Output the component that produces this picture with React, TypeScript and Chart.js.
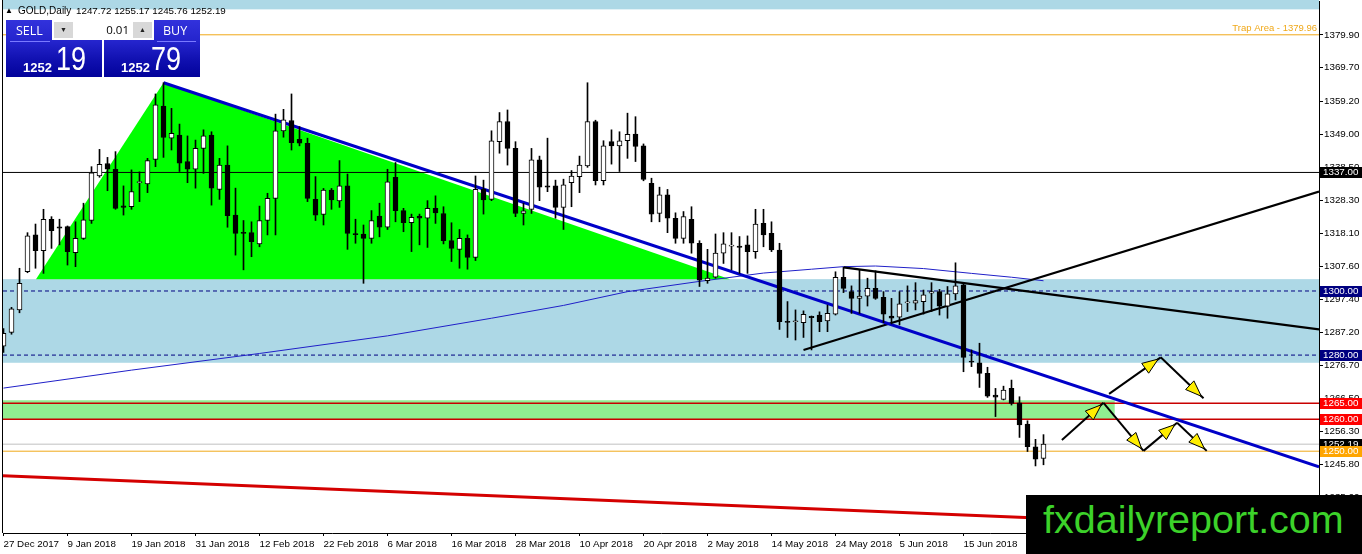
import React, { useEffect, useRef } from "react";
import { Chart, registerables } from "chart.js";

Chart.register(...registerables);

// ---------- DATA ----------
const opens = [
  1282.8, 1287.1, 1294.1, 1306.0, 1317.5, 1312.6, 1322.4, 1320.0, 1320.1, 1312.0,
  1316.4, 1322.0, 1335.9, 1339.8, 1338.0, 1326.6, 1326.3, 1333.8, 1333.4, 1341.1,
  1357.7, 1347.7, 1348.7, 1340.4, 1338.0, 1344.5, 1348.7, 1331.7, 1339.3, 1323.7,
  1318.3, 1318.2, 1314.7, 1322.0, 1328.9, 1350.0, 1353.2, 1347.3, 1346.1, 1328.6,
  1323.9, 1331.5, 1328.1, 1332.8, 1317.8, 1317.8, 1316.4, 1323.4, 1319.9, 1335.5,
  1325.1, 1321.3, 1323.4, 1322.7, 1325.8, 1324.2, 1315.7, 1313.0, 1316.4, 1310.5,
  1331.7, 1328.6, 1346.6, 1352.9, 1344.5, 1324.2, 1325.5, 1340.9, 1332.8, 1332.8,
  1326.1, 1333.8, 1335.7, 1339.0, 1352.9, 1334.4, 1346.6, 1345.3, 1346.9, 1349.0,
  1345.3, 1333.6, 1324.2, 1330.0, 1322.7, 1316.4, 1322.4, 1314.9, 1303.2, 1304.3,
  1311.8, 1314.0, 1314.0, 1314.4, 1312.3, 1321.1, 1318.0, 1312.8, 1290.3, 1290.4,
  1290.1, 1292.1, 1292.5, 1290.7, 1292.8, 1304.3, 1299.8, 1297.7, 1298.4, 1300.8,
  1298.0, 1292.2, 1291.8, 1296.3, 1296.2, 1296.7, 1299.3, 1299.8, 1295.3, 1299.1,
  1301.9, 1278.0, 1277.6, 1274.3, 1267.5, 1266.2, 1269.6, 1265.1, 1258.5, 1251.4,
  1247.72,
];
const highs = [
  1288.3, 1294.9, 1307.1, 1318.2, 1320.9, 1325.5, 1323.2, 1322.4, 1320.3, 1321.6,
  1327.4, 1338.8, 1344.2, 1341.7, 1343.5, 1332.8, 1337.8, 1337.2, 1341.4, 1361.5,
  1365.0, 1357.0, 1352.1, 1348.4, 1347.1, 1350.3, 1349.7, 1341.4, 1345.3, 1332.1,
  1322.0, 1321.6, 1326.5, 1330.5, 1355.2, 1356.7, 1361.5, 1351.3, 1347.7, 1335.7,
  1332.0, 1332.0, 1340.7, 1336.5, 1322.4, 1320.6, 1325.1, 1327.4, 1338.0, 1340.1,
  1325.8, 1324.0, 1324.0, 1328.2, 1329.7, 1326.3, 1321.3, 1319.2, 1317.5, 1335.9,
  1334.6, 1350.0, 1355.7, 1356.5, 1346.6, 1327.4, 1344.5, 1342.1, 1347.7, 1334.6,
  1334.9, 1337.6, 1342.1, 1365.0, 1353.3, 1346.9, 1350.3, 1349.7, 1355.5, 1354.4,
  1345.9, 1335.2, 1332.4, 1331.7, 1324.4, 1324.8, 1326.3, 1315.7, 1313.0, 1317.8,
  1318.2, 1318.2, 1317.0, 1317.2, 1325.5, 1325.5, 1321.6, 1314.9, 1296.7, 1294.1,
  1293.8, 1292.2, 1293.5, 1295.6, 1306.0, 1307.4, 1301.6, 1306.6, 1304.0, 1306.3,
  1299.8, 1297.7, 1299.8, 1301.6, 1302.6, 1300.3, 1302.6, 1300.5, 1301.4, 1308.8,
  1302.4, 1281.6, 1283.7, 1276.2, 1269.6, 1270.3, 1272.2, 1267.0, 1259.5, 1253.7,
  1255.17,
];
const lows = [
  1280.8, 1286.5, 1293.2, 1305.7, 1307.1, 1305.5, 1313.3, 1314.4, 1308.1, 1307.6,
  1316.1, 1321.1, 1335.5, 1331.3, 1325.5, 1323.7, 1325.5, 1327.9, 1330.7, 1338.8,
  1341.7, 1344.0, 1337.3, 1333.8, 1332.1, 1336.7, 1326.8, 1328.6, 1319.9, 1311.2,
  1306.6, 1310.7, 1313.8, 1317.5, 1317.5, 1348.0, 1344.0, 1345.3, 1327.9, 1322.0,
  1320.6, 1325.5, 1326.1, 1313.0, 1314.9, 1302.4, 1314.9, 1316.9, 1319.2, 1321.6,
  1318.5, 1312.3, 1314.4, 1313.6, 1321.1, 1314.7, 1309.2, 1307.1, 1306.8, 1309.5,
  1324.0, 1328.2, 1343.0, 1339.3, 1323.2, 1320.6, 1324.2, 1328.2, 1331.0, 1322.7,
  1319.2, 1326.3, 1330.7, 1338.6, 1333.1, 1333.1, 1339.6, 1337.3, 1341.4, 1340.4,
  1334.4, 1321.6, 1321.6, 1318.2, 1314.9, 1314.9, 1311.8, 1301.4, 1302.4, 1304.0,
  1308.6, 1306.6, 1305.5, 1305.5, 1310.2, 1313.8, 1312.3, 1288.0, 1285.5, 1284.7,
  1285.5, 1281.6, 1287.3, 1287.3, 1292.5, 1299.5, 1293.0, 1293.0, 1295.3, 1297.4,
  1290.1, 1289.7, 1289.4, 1293.6, 1294.1, 1292.8, 1293.6, 1292.5, 1291.5, 1297.2,
  1274.8, 1276.4, 1269.9, 1266.8, 1260.8, 1266.0, 1264.4, 1254.3, 1249.9, 1245.4,
  1245.76,
];
const closes = [
  1286.8, 1294.4, 1302.4, 1317.2, 1312.6, 1322.4, 1318.8, 1319.6, 1312.3, 1316.4,
  1322.2, 1336.9, 1339.5, 1338.0, 1325.8, 1326.1, 1331.0, 1334.0, 1340.7, 1358.1,
  1347.9, 1349.2, 1339.9, 1338.0, 1344.5, 1348.4, 1332.1, 1339.3, 1323.5, 1318.0,
  1318.0, 1315.4, 1322.0, 1328.9, 1350.0, 1353.4, 1346.3, 1346.1, 1328.9, 1323.7,
  1331.5, 1328.4, 1332.8, 1318.0, 1317.6, 1316.4, 1322.0, 1319.9, 1334.1, 1325.1,
  1321.3, 1323.0, 1322.7, 1325.8, 1324.4, 1315.7, 1313.3, 1316.4, 1310.5, 1331.7,
  1328.4, 1346.9, 1352.9, 1344.5, 1324.2, 1325.0, 1340.9, 1332.4, 1332.4, 1326.1,
  1333.1, 1335.9, 1339.3, 1352.9, 1334.4, 1345.3, 1345.3, 1346.9, 1348.9, 1345.1,
  1334.8, 1324.0, 1330.0, 1322.7, 1316.4, 1323.2, 1314.9, 1303.4, 1304.0, 1311.8,
  1314.7, 1314.3, 1313.6, 1312.3, 1320.9, 1317.5, 1312.8, 1290.4, 1290.2, 1290.5,
  1292.7, 1291.7, 1290.4, 1293.0, 1304.3, 1300.8, 1297.7, 1298.4, 1300.8, 1297.7,
  1292.8, 1291.5, 1296.0, 1296.5, 1297.0, 1298.8, 1299.8, 1295.3, 1299.1, 1301.6,
  1279.3, 1277.8, 1274.3, 1267.2, 1266.9, 1269.1, 1264.9, 1258.2, 1251.4, 1247.5,
  1252.19,
];

// x-axis date ticks (bar index -> label)
const tickIndex = [0, 8, 16, 24, 32, 40, 48, 56, 64, 72, 80, 88, 96, 104, 112, 120];
const tickDates = [
  "27 Dec 2017", "9 Jan 2018", "19 Jan 2018", "31 Jan 2018", "12 Feb 2018",
  "22 Feb 2018", "6 Mar 2018", "16 Mar 2018", "28 Mar 2018", "10 Apr 2018",
  "20 Apr 2018", "2 May 2018", "14 May 2018", "24 May 2018", "5 Jun 2018",
  "15 Jun 2018",
];
// price axis ticks
const priceTicks = [
  1379.9, 1369.7, 1359.2, 1349.0, 1338.5, 1328.3, 1318.1, 1307.6, 1297.4,
  1287.2, 1276.7, 1266.5, 1256.3, 1245.8, 1235.6,
];

// moving average (read at a handful of bars)
const maIdx = [0, 16, 32, 48, 61, 70, 78, 87, 95, 101, 105, 109, 115, 121, 126, 130];
const maVal = [
  1269.7, 1275.3, 1280.5, 1286.0, 1291.5, 1295.5, 1299.8, 1303.0, 1305.6,
  1306.8, 1307.6, 1307.8, 1307.0, 1305.5, 1304.3, 1303.2,
];

// drawn trendlines: [start, end] in bar index / price
const blueTrendIdx = [20, 164.44];
const blueTrendVal = [1365.0, 1245.1];
const riseTrendIdx = [100, 164.44];
const riseTrendVal = [1281.6, 1331.0];
const fallTrendIdx = [105, 164.44];
const fallTrendVal = [1307.4, 1288.05];
const redTrendIdx = [-0.06, 164.44];
const redTrendVal = [1242.3, 1225.6];

// shaded areas
const triangleIdx = [4.06, 20, 90.8];
const triangleVal = [1303.7, 1365.0, 1303.7];
const blueZone = [1303.7, 1277.6];
const greenBand = [1265.9, 1260.0];
const greenBandEnd = [138.9];
const topStrip = [1387.9];

// horizontal levels
const levelValues = [1379.96, 1337.0, 1300.0, 1280.0, 1265.0, 1260.0, 1252.19, 1250.0];
const tagValues = [1337.0, 1300.0, 1280.0, 1265.0, 1260.0, 1252.19, 1250.0];
const trapLabel = "Trap Area - 1379.96";

// projected path arrows
const arrowAIdx = [132.3, 137.5, 142.5, 146.7, 150.4];
const arrowAVal = [1253.5, 1265.1, 1250.1, 1258.9, 1250.1];
const arrowBIdx = [138.2, 144.65, 150.0];
const arrowBVal = [1267.9, 1279.3, 1266.5];

// header
const symbolTitle = "GOLD,Daily";
const ohlcText = "1247.72 1255.17 1245.76 1252.19";

// ---------- STYLES ----------
const X_MIN = -0.0625;
const X_MAX = 164.4375;
const Y_MIN = 1224.47;
const Y_MAX = 1390.51;
const FONT = "'Liberation Sans', Arial, sans-serif";
const levelColors = ["#f0a818", "#000000", "#000080", "#000080", "#c80000", "#c80000", "#c0c0c0", "#f0a818"];
const levelDash = [[], [], [4, 3], [4, 3], [], [], [], []];
const levelWidth = [1, 1, 1, 1, 1.5, 1.5, 1, 1];
const tagColors = ["#000000", "#000080", "#000080", "#ff0000", "#ff0000", "#000000", "#ffa500"];

function drawArrows(ctx: CanvasRenderingContext2D, xs: any, ys: any, idx: number[], val: number[]) {
  const pts = idx.map((v, k) => [xs.getPixelForValue(v), ys.getPixelForValue(val[k])]);
  for (let k = 0; k < pts.length - 1; k++) {
    const [x0, y0] = pts[k];
    const [x1, y1] = pts[k + 1];
    const dx = x1 - x0;
    const dy = y1 - y0;
    const len = Math.hypot(dx, dy);
    const ux = dx / len;
    const uy = dy / len;
    ctx.strokeStyle = "#000";
    ctx.lineWidth = 2;
    ctx.beginPath();
    ctx.moveTo(x0, y0);
    ctx.lineTo(x1, y1);
    ctx.stroke();
    const tx = x1 - ux * 3;
    const ty = y1 - uy * 3;
    const L = 16;
    const W = 6;
    const bx = tx - ux * L;
    const by = ty - uy * L;
    ctx.beginPath();
    ctx.moveTo(tx, ty);
    ctx.lineTo(bx - uy * W, by + ux * W);
    ctx.lineTo(bx + uy * W, by - ux * W);
    ctx.closePath();
    ctx.fillStyle = "#ffee00";
    ctx.fill();
    ctx.lineWidth = 1;
    ctx.strokeStyle = "#000";
    ctx.stroke();
  }
}

const overlayPlugin = {
  id: "mtOverlay",
  beforeDatasetsDraw(chart: any) {
    const { ctx, chartArea: ca, scales } = chart;
    const x = scales.x;
    const y = scales.y;
    ctx.save();
    ctx.fillStyle = "#add8e6";
    ctx.fillRect(ca.left, 0, ca.right - ca.left, y.getPixelForValue(topStrip[0]));
    const zt = y.getPixelForValue(blueZone[0]);
    const zb = y.getPixelForValue(blueZone[1]);
    ctx.fillRect(ca.left, zt, ca.right - ca.left, zb - zt);
    ctx.fillStyle = "#00ff00";
    ctx.beginPath();
    triangleIdx.forEach((v, k) => {
      const px = x.getPixelForValue(v);
      const py = y.getPixelForValue(triangleVal[k]);
      if (k === 0) ctx.moveTo(px, py);
      else ctx.lineTo(px, py);
    });
    ctx.closePath();
    ctx.fill();
    ctx.fillStyle = "#90ee90";
    const gt = y.getPixelForValue(greenBand[0]);
    const gb = y.getPixelForValue(greenBand[1]);
    ctx.fillRect(ca.left, gt, x.getPixelForValue(greenBandEnd[0]) - ca.left, gb - gt);
    ctx.restore();
  },
  afterDatasetsDraw(chart: any) {
    const { ctx, chartArea: ca, scales } = chart;
    const x = scales.x;
    const y = scales.y;
    ctx.save();
    drawArrows(ctx, x, y, arrowAIdx, arrowAVal);
    drawArrows(ctx, x, y, arrowBIdx, arrowBVal);
    ctx.font = `9.5px ${FONT}`;
    ctx.fillStyle = "#f0a818";
    ctx.textAlign = "right";
    ctx.textBaseline = "middle";
    ctx.fillText(trapLabel, ca.right - 2, y.getPixelForValue(levelValues[0]) - 6);
    ctx.restore();
  },
  afterDraw(chart: any) {
    const { ctx, chartArea: ca, scales } = chart;
    const y = scales.y;
    ctx.save();
    ctx.fillStyle = "#000";
    ctx.fillRect(Math.round(ca.left) - 1, 0, 1, Math.round(ca.bottom));
    ctx.font = `9.8px ${FONT}`;
    ctx.textAlign = "left";
    ctx.textBaseline = "middle";
    tagValues.forEach((v, k) => {
      const py = Math.round(y.getPixelForValue(v));
      ctx.fillStyle = tagColors[k];
      ctx.fillRect(ca.right + 1, py - 5, 43, 11);
      ctx.fillStyle = "#fff";
      ctx.fillText(v.toFixed(2), ca.right + 4, py + 0.5);
    });
    ctx.restore();
  },
};

function lineDs(idx: number[], val: number[], color: string, width: number, dash: number[], order: number) {
  return {
    type: "line" as const,
    data: idx.map((v, k) => ({ x: v, y: val[k] })),
    borderColor: color,
    borderWidth: width,
    borderDash: dash,
    pointRadius: 0,
    fill: false,
    tension: 0,
    order,
  };
}

export default function App() {
  const canvasRef = useRef<HTMLCanvasElement | null>(null);

  useEffect(() => {
    const canvas = canvasRef.current;
    if (!canvas) return;

    const bodyColors = closes.map((c, i) => (c >= opens[i] ? "#ffffff" : "#000000"));
    const datasets: any[] = [
      {
        type: "bar",
        data: opens.map((o, i) => ({ x: i, y: [o, closes[i]] })),
        backgroundColor: bodyColors,
        borderColor: "#000000",
        borderWidth: 1,
        borderSkipped: false,
        barThickness: 5,
        grouped: false,
        minBarLength: 1,
        order: 1,
      },
      {
        type: "bar",
        data: lows.map((l, i) => ({ x: i, y: [l, highs[i]] })),
        backgroundColor: "#000000",
        borderWidth: 0,
        barThickness: 1,
        grouped: false,
        order: 2,
      },
    ];
    levelValues.forEach((v, k) => {
      datasets.push(lineDs([X_MIN, X_MAX], [v, v], levelColors[k], levelWidth[k], levelDash[k], 10 + k));
    });
    datasets.push(lineDs(maIdx, maVal, "#2020c8", 1, [], 5));
    datasets.push(lineDs(blueTrendIdx, blueTrendVal, "#0000c8", 3, [], 3));
    datasets.push(lineDs(riseTrendIdx, riseTrendVal, "#000000", 2.2, [], 4));
    datasets.push(lineDs(fallTrendIdx, fallTrendVal, "#000000", 2.2, [], 4));
    datasets.push(lineDs(redTrendIdx, redTrendVal, "#d40000", 3, [], 4));

    const tickFont = { family: FONT, size: 9.8 };

    const chart = new Chart(canvas, {
      type: "bar",
      data: { datasets },
      options: {
        animation: false,
        responsive: false,
        devicePixelRatio: 1,
        events: [],
        layout: { padding: { left: 3, top: 1, right: 0, bottom: 0 } },
        plugins: { legend: { display: false }, tooltip: { enabled: false } },
        scales: {
          x: {
            type: "linear",
            min: X_MIN,
            max: X_MAX,
            offset: false,
            grid: {
              display: true,
              drawOnChartArea: false,
              drawTicks: true,
              tickLength: 3,
              color: "#000",
              tickColor: "#000",
              offset: false,
            },
            border: { display: true, color: "#000", width: 1 },
            ticks: {
              autoSkip: false,
              maxRotation: 0,
              minRotation: 0,
              align: "start",
              padding: 2,
              color: "#000",
              font: tickFont,
              callback: (value: any) => {
                const k = tickIndex.indexOf(Number(value));
                return k >= 0 ? tickDates[k] : "";
              },
            },
            afterBuildTicks: (s: any) => {
              s.ticks = tickIndex.map((v) => ({ value: v }));
            },
            afterFit: (s: any) => {
              s.height = 21;
              s.paddingLeft = 0;
              s.paddingRight = 0;
            },
          },
          y: {
            type: "linear",
            position: "right",
            min: Y_MIN,
            max: Y_MAX,
            grid: {
              display: true,
              drawOnChartArea: false,
              drawTicks: true,
              tickLength: 4,
              color: "#000",
              tickColor: "#000",
            },
            border: { display: true, color: "#000", width: 1 },
            ticks: {
              autoSkip: false,
              padding: 1,
              color: "#000",
              font: tickFont,
              callback: (v: any) => Number(v).toFixed(2),
            },
            afterBuildTicks: (s: any) => {
              s.ticks = priceTicks.map((v) => ({ value: v }));
            },
            afterFit: (s: any) => {
              s.width = 43;
              s.paddingTop = 0;
              s.paddingBottom = 0;
            },
          },
        },
      } as any,
      plugins: [overlayPlugin],
    });

    return () => {
      chart.destroy();
    };
  }, []);

  const boxBg = "linear-gradient(180deg, #3232dc 0%, #2424cc 38%, #1010b0 70%, #02029a 100%)";
  const abs = (s: React.CSSProperties): React.CSSProperties => ({ position: "absolute", ...s });

  return (
    <div style={{ position: "fixed", left: 0, top: 0, width: 1362, height: 554, background: "#fff", overflow: "hidden" }}>
      <canvas ref={canvasRef} width={1362} height={554} style={{ position: "absolute", left: 0, top: 0 }} />

      {/* header */}
      <div style={abs({ left: 5, top: 6, fontSize: 8, fontFamily: FONT, color: "#000", lineHeight: "9px" })}>▲</div>
      <div style={abs({ left: 18, top: 5, fontSize: 10, fontFamily: FONT, color: "#000", lineHeight: "11px", whiteSpace: "pre" })}>
        {symbolTitle}
      </div>
      <div style={abs({ left: 76, top: 5, fontSize: 9.8, fontFamily: FONT, color: "#000", lineHeight: "11px", whiteSpace: "pre" })}>
        {ohlcText}
      </div>

      {/* SELL box */}
      <div style={abs({ left: 6, top: 20, width: 96, height: 57, background: boxBg })} />
      <div style={abs({ left: 16, top: 24, fontSize: 12.5, fontFamily: "'Open Sans', sans-serif", color: "#fff", lineHeight: "14px" })}>SELL</div>
      <div style={abs({ left: 10, top: 41, width: 40, height: 1, background: "#7a7aff" })} />
      <div style={abs({ left: 23, top: 61, fontSize: 13, fontWeight: "bold", fontFamily: FONT, color: "#fff", lineHeight: "13px" })}>1252</div>
      <div style={abs({ left: 56, top: 42, fontSize: 33, fontFamily: FONT, color: "#fff", lineHeight: "33px", transform: "scaleX(0.82)", transformOrigin: "left top" })}>19</div>

      {/* BUY box */}
      <div style={abs({ left: 104, top: 20, width: 96, height: 57, background: boxBg })} />
      <div style={abs({ left: 163, top: 24, fontSize: 12.5, fontFamily: "'Open Sans', sans-serif", color: "#fff", lineHeight: "14px" })}>BUY</div>
      <div style={abs({ left: 157, top: 41, width: 39, height: 1, background: "#7a7aff" })} />
      <div style={abs({ left: 121, top: 61, fontSize: 13, fontWeight: "bold", fontFamily: FONT, color: "#fff", lineHeight: "13px" })}>1252</div>
      <div style={abs({ left: 151, top: 42, fontSize: 33, fontFamily: FONT, color: "#fff", lineHeight: "33px", transform: "scaleX(0.82)", transformOrigin: "left top" })}>79</div>

      {/* lot control */}
      <div style={abs({ left: 52, top: 20, width: 102, height: 20, background: "#ffffff" })} />
      <div style={abs({ left: 54, top: 22, width: 19, height: 16, background: "#d8d8d8", color: "#222", fontSize: 7, lineHeight: "16px", textAlign: "center", fontFamily: FONT })}>▼</div>
      <div style={abs({ left: 133, top: 22, width: 19, height: 16, background: "#d8d8d8", color: "#222", fontSize: 7, lineHeight: "16px", textAlign: "center", fontFamily: FONT })}>▲</div>
      <div style={abs({ left: 74, top: 22, width: 55, height: 16, fontSize: 11.5, fontFamily: "'Open Sans', sans-serif", color: "#000", lineHeight: "16px", textAlign: "right" })}>0.01</div>

      {/* watermark */}
      <div style={abs({ left: 1026, top: 495, width: 336, height: 59, background: "#000" })}>
        <div style={abs({ left: 17, top: 4, fontSize: 39.5, fontFamily: FONT, color: "#3cd22a", lineHeight: "40px", whiteSpace: "pre" })}>
          fxdailyreport.com
        </div>
      </div>
    </div>
  );
}
